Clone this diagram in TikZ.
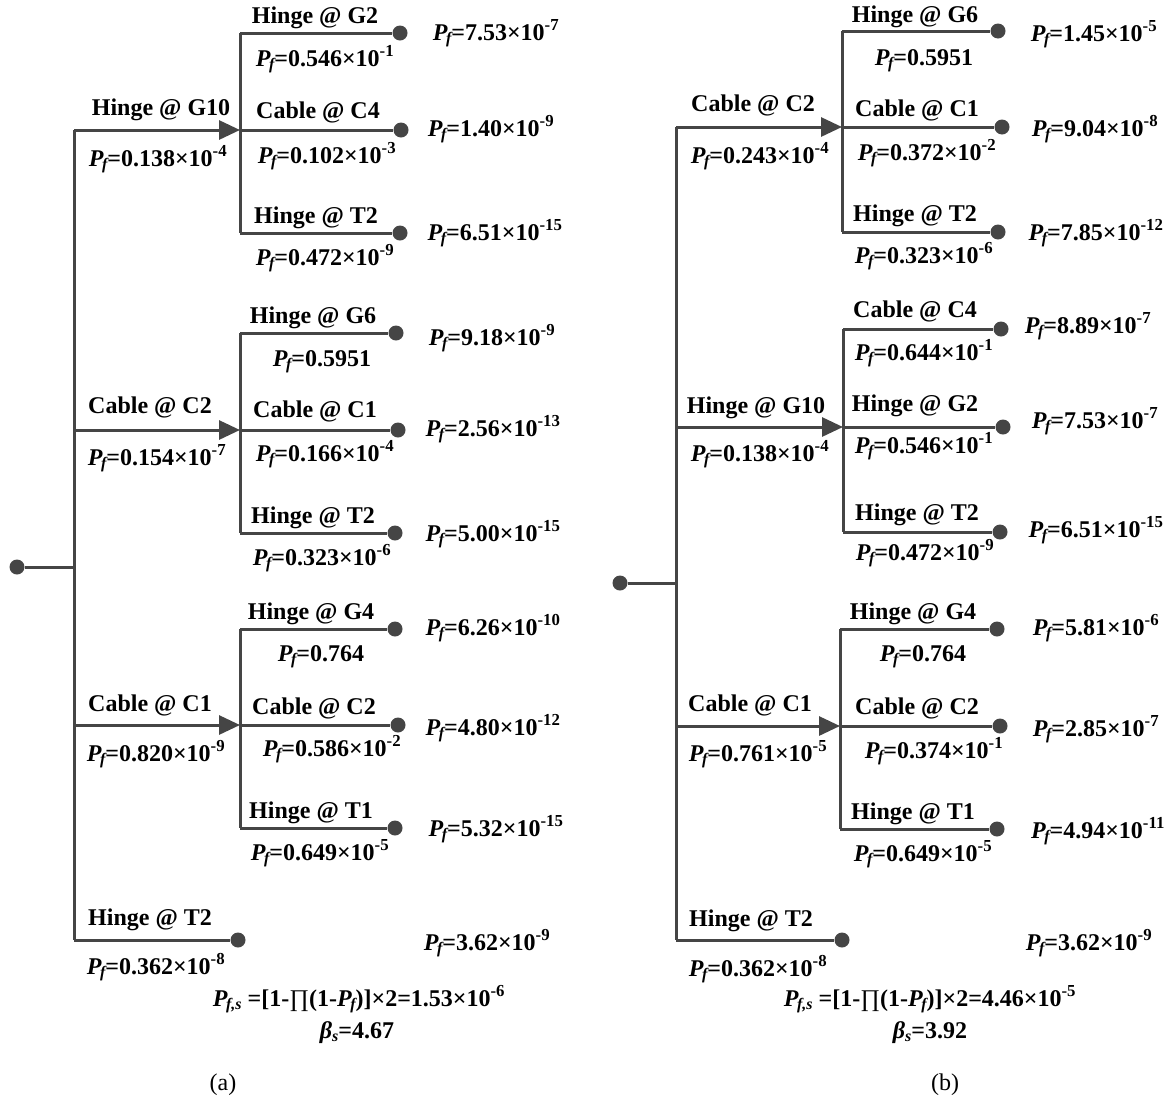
\documentclass[tikz,border=0pt]{standalone}
\usepackage{fontspec}
\setmainfont{Liberation Serif}
\usetikzlibrary{arrows.meta}

\definecolor{linegray}{HTML}{454545}

% failure-probability notation
\newcommand{\Pf}{{\bfseries\itshape P}\kern-0.06em\raisebox{-0.32ex}{\fontsize{16}{16}\selectfont\bfseries\itshape f}}
\newcommand{\Pfs}{{\bfseries\itshape P}\kern-0.06em\raisebox{-0.32ex}{\fontsize{16}{16}\selectfont\bfseries\itshape f,s}}
\newcommand{\pv}[2]{\Pf=#1×10\textsuperscript{#2}}

\tikzset{
  x=1pt, y=-1pt,
  wire/.style={draw=linegray, line width=3pt},
  feed/.style={wire, -{Triangle[length=21pt,width=19pt]}},
  leaf/.style={circle, fill=linegray, inner sep=0pt, minimum size=15pt},
  lbl/.style={anchor=base, inner sep=0pt, font=\fontsize{24}{24}\selectfont\bfseries},
  subcap/.style={anchor=base, inner sep=0pt, font=\fontsize{24}{24}\selectfont}
}

\begin{document}
\begin{tikzpicture}
\useasboundingbox (0,0) rectangle (1172,1101);

% ---------------- tree (a) ----------------
\node[leaf] (aR) at (17,567) {};
\coordinate (aT0) at (74,567);
\coordinate (aT1) at (74,130);
\coordinate (aT2) at (74,430);
\coordinate (aT3) at (74,725);
\coordinate (aT4) at (74,940);
\coordinate (aS1) at (240,130);
\coordinate (aS2) at (240,430);
\coordinate (aS3) at (240,725);
\coordinate (aS1t) at (240,33);  \coordinate (aS1b) at (240,233);
\coordinate (aS2t) at (240,333); \coordinate (aS2b) at (240,533);
\coordinate (aS3t) at (240,629); \coordinate (aS3b) at (240,828);
\node[leaf] (aL11) at (400,33) {};
\node[leaf] (aL12) at (401,130) {};
\node[leaf] (aL13) at (400,233) {};
\node[leaf] (aL21) at (396,333) {};
\node[leaf] (aL22) at (398,430) {};
\node[leaf] (aL23) at (395,533) {};
\node[leaf] (aL31) at (395,629) {};
\node[leaf] (aL32) at (398,725) {};
\node[leaf] (aL33) at (395,828) {};
\node[leaf] (aL4) at (238,940) {};

\draw[wire] (aR) -- (aT0);
\draw[wire] (aT1) -- (aT4);
\draw[feed] (aT1) -- (aS1);
\draw[feed] (aT2) -- (aS2);
\draw[feed] (aT3) -- (aS3);
\draw[wire] (aT4) -- (aL4);
\draw[wire] (aS1t) -- (aS1b);
\draw[wire] (aS2t) -- (aS2b);
\draw[wire] (aS3t) -- (aS3b);
\draw[wire] (aS1t) -- (aL11);
\draw[wire] (aS1) -- (aL12);
\draw[wire] (aS1b) -- (aL13);
\draw[wire] (aS2t) -- (aL21);
\draw[wire] (aS2) -- (aL22);
\draw[wire] (aS2b) -- (aL23);
\draw[wire] (aS3t) -- (aL31);
\draw[wire] (aS3) -- (aL32);
\draw[wire] (aS3b) -- (aL33);

\node[lbl] (aA1) at (161,115) {Hinge @ G10};
\node[lbl] (aA1p) at (158,166) {\pv{0.138}{-4}};
\node[lbl] (aA11) at (315,23) {Hinge @ G2};
\node[lbl] (aA11p) at (325,66) {\pv{0.546}{-1}};
\node[lbl] (aA11r) at (496,40) {\pv{7.53}{-7}};
\node[lbl] (aA12) at (318,118) {Cable @ C4};
\node[lbl] (aA12p) at (327,163) {\pv{0.102}{-3}};
\node[lbl] (aA12r) at (491,136) {\pv{1.40}{-9}};
\node[lbl] (aA13) at (316,223) {Hinge @ T2};
\node[lbl] (aA13p) at (325,265) {\pv{0.472}{-9}};
\node[lbl] (aA13r) at (495,240) {\pv{6.51}{-15}};

\node[lbl] (aA2) at (150,413) {Cable @ C2};
\node[lbl] (aA2p) at (157,465) {\pv{0.154}{-7}};
\node[lbl] (aA21) at (313,323) {Hinge @ G6};
\node[lbl] (aA21p) at (322,366) {\Pf=0.5951};
\node[lbl] (aA21r) at (492,345) {\pv{9.18}{-9}};
\node[lbl] (aA22) at (315,417) {Cable @ C1};
\node[lbl] (aA22p) at (325,461) {\pv{0.166}{-4}};
\node[lbl] (aA22r) at (493,436) {\pv{2.56}{-13}};
\node[lbl] (aA23) at (313,523) {Hinge @ T2};
\node[lbl] (aA23p) at (322,565) {\pv{0.323}{-6}};
\node[lbl] (aA23r) at (493,541) {\pv{5.00}{-15}};

\node[lbl] (aA3) at (150,711) {Cable @ C1};
\node[lbl] (aA3p) at (156,761) {\pv{0.820}{-9}};
\node[lbl] (aA31) at (311,619) {Hinge @ G4};
\node[lbl] (aA31p) at (321,661) {\Pf=0.764};
\node[lbl] (aA31r) at (493,635) {\pv{6.26}{-10}};
\node[lbl] (aA32) at (314,714) {Cable @ C2};
\node[lbl] (aA32p) at (332,756) {\pv{0.586}{-2}};
\node[lbl] (aA32r) at (493,735) {\pv{4.80}{-12}};
\node[lbl] (aA33) at (311,818) {Hinge @ T1};
\node[lbl] (aA33p) at (320,860) {\pv{0.649}{-5}};
\node[lbl] (aA33r) at (496,836) {\pv{5.32}{-15}};

\node[lbl] (aA4) at (150,925) {Hinge @ T2};
\node[lbl] (aA4p) at (156,974) {\pv{0.362}{-8}};
\node[lbl] (aA4r) at (487,950) {\pv{3.62}{-9}};

\node[lbl] (aSys) at (359,1006) {\Pfs\ =[1-{\mdseries ∏}(1-\Pf)]×2=1.53×10\textsuperscript{-6}};
\node[lbl] (aBeta) at (357,1038) {{\itshape β}\raisebox{-0.32ex}{\fontsize{16}{16}\selectfont\bfseries\itshape s}=4.67};
\node[subcap] (aCap) at (223,1090) {(a)};

% ---------------- tree (b) ----------------
\node[leaf] (bR) at (620,583) {};
\coordinate (bT0) at (676,583);
\coordinate (bT1) at (676,127);
\coordinate (bT2) at (676,427);
\coordinate (bT3) at (676,726);
\coordinate (bT4) at (676,940);
\coordinate (bS1) at (842,127);
\coordinate (bS2) at (843,427);
\coordinate (bS3) at (840,726);
\coordinate (bS1t) at (842,31);  \coordinate (bS1b) at (842,232);
\coordinate (bS2t) at (843,329); \coordinate (bS2b) at (843,532);
\coordinate (bS3t) at (840,629); \coordinate (bS3b) at (840,829);
\node[leaf] (bL11) at (998,31) {};
\node[leaf] (bL12) at (1002,127) {};
\node[leaf] (bL13) at (998,232) {};
\node[leaf] (bL21) at (1001,329) {};
\node[leaf] (bL22) at (1003,427) {};
\node[leaf] (bL23) at (1000,532) {};
\node[leaf] (bL31) at (997,629) {};
\node[leaf] (bL32) at (1000,726) {};
\node[leaf] (bL33) at (997,829) {};
\node[leaf] (bL4) at (842,940) {};

\draw[wire] (bR) -- (bT0);
\draw[wire] (bT1) -- (bT4);
\draw[feed] (bT1) -- (bS1);
\draw[feed] (bT2) -- (bS2);
\draw[feed] (bT3) -- (bS3);
\draw[wire] (bT4) -- (bL4);
\draw[wire] (bS1t) -- (bS1b);
\draw[wire] (bS2t) -- (bS2b);
\draw[wire] (bS3t) -- (bS3b);
\draw[wire] (bS1t) -- (bL11);
\draw[wire] (bS1) -- (bL12);
\draw[wire] (bS1b) -- (bL13);
\draw[wire] (bS2t) -- (bL21);
\draw[wire] (bS2) -- (bL22);
\draw[wire] (bS2b) -- (bL23);
\draw[wire] (bS3t) -- (bL31);
\draw[wire] (bS3) -- (bL32);
\draw[wire] (bS3b) -- (bL33);

\node[lbl] (bB1) at (753,111) {Cable @ C2};
\node[lbl] (bB1p) at (760,163) {\pv{0.243}{-4}};
\node[lbl] (bB11) at (915,22) {Hinge @ G6};
\node[lbl] (bB11p) at (924,65) {\Pf=0.5951};
\node[lbl] (bB11r) at (1094,41) {\pv{1.45}{-5}};
\node[lbl] (bB12) at (917,116) {Cable @ C1};
\node[lbl] (bB12p) at (927,160) {\pv{0.372}{-2}};
\node[lbl] (bB12r) at (1095,136) {\pv{9.04}{-8}};
\node[lbl] (bB13) at (915,221) {Hinge @ T2};
\node[lbl] (bB13p) at (924,263) {\pv{0.323}{-6}};
\node[lbl] (bB13r) at (1096,240) {\pv{7.85}{-12}};

\node[lbl] (bB2) at (756,413) {Hinge @ G10};
\node[lbl] (bB2p) at (760,461) {\pv{0.138}{-4}};
\node[lbl] (bB21) at (915,317) {Cable @ C4};
\node[lbl] (bB21p) at (924,360) {\pv{0.644}{-1}};
\node[lbl] (bB21r) at (1088,333) {\pv{8.89}{-7}};
\node[lbl] (bB22) at (915,411) {Hinge @ G2};
\node[lbl] (bB22p) at (924,453) {\pv{0.546}{-1}};
\node[lbl] (bB22r) at (1095,428) {\pv{7.53}{-7}};
\node[lbl] (bB23) at (917,520) {Hinge @ T2};
\node[lbl] (bB23p) at (925,560) {\pv{0.472}{-9}};
\node[lbl] (bB23r) at (1096,537) {\pv{6.51}{-15}};

\node[lbl] (bB3) at (750,711) {Cable @ C1};
\node[lbl] (bB3p) at (758,761) {\pv{0.761}{-5}};
\node[lbl] (bB31) at (913,619) {Hinge @ G4};
\node[lbl] (bB31p) at (923,661) {\Pf=0.764};
\node[lbl] (bB31r) at (1096,635) {\pv{5.81}{-6}};
\node[lbl] (bB32) at (917,714) {Cable @ C2};
\node[lbl] (bB32p) at (934,758) {\pv{0.374}{-1}};
\node[lbl] (bB32r) at (1096,736) {\pv{2.85}{-7}};
\node[lbl] (bB33) at (913,819) {Hinge @ T1};
\node[lbl] (bB33p) at (923,861) {\pv{0.649}{-5}};
\node[lbl] (bB33r) at (1098,838) {\pv{4.94}{-11}};

\node[lbl] (bB4) at (751,926) {Hinge @ T2};
\node[lbl] (bB4p) at (758,976) {\pv{0.362}{-8}};
\node[lbl] (bB4r) at (1089,950) {\pv{3.62}{-9}};

\node[lbl] (bSys) at (930,1006) {\Pfs\ =[1-{\mdseries ∏}(1-\Pf)]×2=4.46×10\textsuperscript{-5}};
\node[lbl] (bBeta) at (930,1038) {{\itshape β}\raisebox{-0.32ex}{\fontsize{16}{16}\selectfont\bfseries\itshape s}=3.92};
\node[subcap] (bCap) at (945,1090) {(b)};
\end{tikzpicture}
\end{document}
